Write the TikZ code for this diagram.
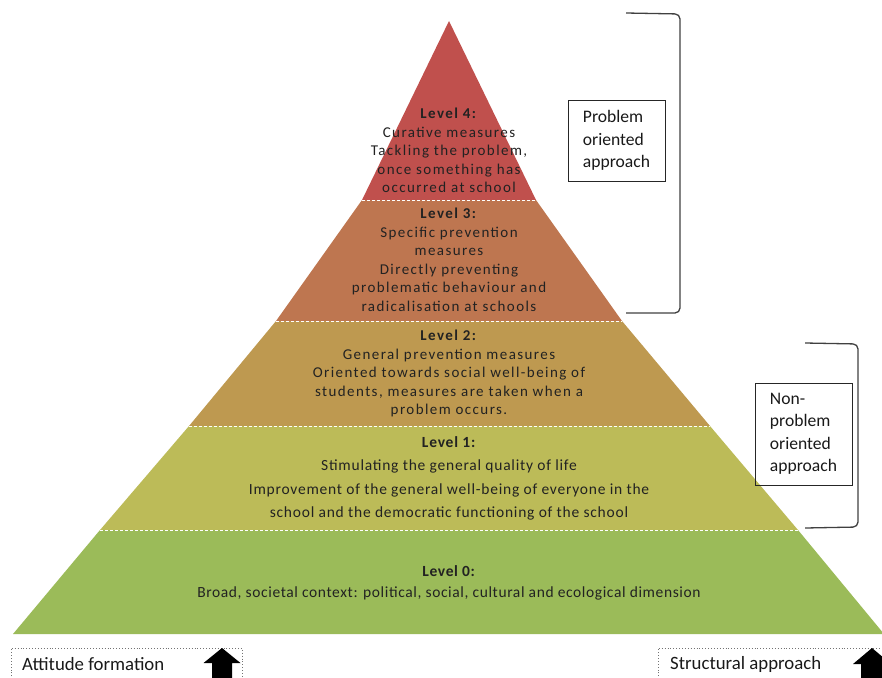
\documentclass[tikz,border=0pt]{standalone}
\usepackage{fontspec}
\setmainfont{Carlito}
\newfontfamily\widefont[LetterSpace=9.5]{Carlito}
\newfontfamily\midfont[LetterSpace=5]{Carlito}
\newfontfamily\basefont[LetterSpace=4]{Carlito}
\definecolor{lvfour}{HTML}{C0504D}
\definecolor{lvthree}{HTML}{BE7650}
\definecolor{lvtwo}{HTML}{BE9950}
\definecolor{lvone}{HTML}{BCBB58}
\definecolor{lvzero}{HTML}{9BBB59}
\definecolor{ink}{HTML}{222222}
\definecolor{rulegray}{HTML}{404040}

\begin{document}
\begin{tikzpicture}[x=1pt,y=-1pt,
  layertext/.style={text=ink, align=center, inner sep=0pt,
    font=\widefont\fontsize{15}{18.5}\selectfont},
  basetext/.style={text=ink, align=center, inner sep=0pt,
    font=\midfont\fontsize{15.5}{22.5}\selectfont},
  sep/.style={draw=white, dash pattern=on 3pt off 2pt, line width=0.8pt},
  brace/.style={draw=rulegray, line width=1.3pt, rounded corners=5pt},
  tagbox/.style={draw=black!85, line width=1pt, minimum width=97pt, align=left,
    inner sep=0pt, text=black!90, font=\fontsize{17.6}{22.5}\selectfont},
  footbox/.style={draw=black!55, dotted, line width=0.9pt},
  foottext/.style={text=black!90, inner sep=0pt, anchor=west,
    font=\fontsize{18.8}{20}\selectfont},
  uparrow/.style={fill=black}
]
\useasboundingbox (0,0) rectangle (882,677);

% pyramid corner points
\coordinate (apex) at (449,21);
\coordinate (l4L) at (362,200);  \coordinate (l4R) at (536,200);
\coordinate (l3L) at (276,321);  \coordinate (l3R) at (622,321);
\coordinate (l2L) at (189,426);  \coordinate (l2R) at (710,426);
\coordinate (l1L) at (100,530);  \coordinate (l1R) at (798,530);
\coordinate (l0L) at (13,634);   \coordinate (l0R) at (884,634);

% layers
\fill[lvfour]  (apex) -- (l4R) -- (l4L) -- cycle;
\fill[lvthree] (l4L) -- (l4R) -- (l3R) -- (l3L) -- cycle;
\fill[lvtwo]   (l3L) -- (l3R) -- (l2R) -- (l2L) -- cycle;
\fill[lvone]   (l2L) -- (l2R) -- (l1R) -- (l1L) -- cycle;
\fill[lvzero]  (l1L) -- (l1R) -- (l0R) -- (l0L) -- cycle;

% separators between layers
\draw[sep] (l4L) -- (l4R);
\draw[sep] (l3L) -- (l3R);
\draw[sep] (l2L) -- (l2R);
\draw[sep] (l1L) -- (l1R);

% layer texts
\node[layertext] (t4) at (449,150.5) {\textbf{Level 4:}\\Curative measures\\Tackling the problem,\\once something has\\occurred at school};
\node[layertext] (t3) at (449,260) {\textbf{Level 3:}\\Specific prevention\\measures\\Directly preventing\\problematic behaviour and\\radicalisation at schools};
\node[layertext] (t2) at (449,373.5) {\textbf{Level 2:}\\General prevention measures\\Oriented towards social well-being of\\students, measures are taken when a\\problem occurs.};
\node[basetext] (t1) at (449,478.5) {\textbf{Level 1:}\\Stimulating the general quality of life\\[2pt]Improvement of the general well-being of everyone in the\\school and the democratic functioning of the school};
\node[basetext, font=\basefont\fontsize{15.5}{21}\selectfont] (t0) at (449,583) {\textbf{Level 0:}\\Broad, societal context: political, social, cultural and ecological dimension};

% brackets grouping the levels
\coordinate (b1a) at (626,13);  \coordinate (b1b) at (680,14);
\coordinate (b1c) at (680,313); \coordinate (b1d) at (626,313);
\draw[brace] (b1a) -- (b1b) -- (b1c) -- (b1d);
\coordinate (b2a) at (805,343); \coordinate (b2b) at (858,344);
\coordinate (b2c) at (858,527); \coordinate (b2d) at (805,528);
\draw[brace] (b2a) -- (b2b) -- (b2c) -- (b2d);

% approach labels
\node[tagbox, minimum height=81pt] (prob) at (616.5,140.5) {Problem\\oriented\\approach};
\node[tagbox, minimum height=102pt] (nonprob) at (803.5,434) {Non-\\problem\\oriented\\approach};

% footer boxes
\draw[footbox] (11,682) -- (11,648) -- (242,648) -- (242,682);
\draw[footbox] (658,682) -- (658,648) -- (892,648);
\node[foottext] (att) at (22,664.5) {Attitude formation};
\node[foottext] (struct) at (670,664.5) {Structural approach};

% upward arrows
\fill[uparrow] (222,648) -- (240.5,663) -- (232,663) -- (232,682) -- (212,682) -- (212,663) -- (203.5,663) -- cycle;
\fill[uparrow] (872,648) -- (891,664) -- (883,664) -- (883,682) -- (861,682) -- (861,664) -- (853,664) -- cycle;
\end{tikzpicture}
\end{document}
